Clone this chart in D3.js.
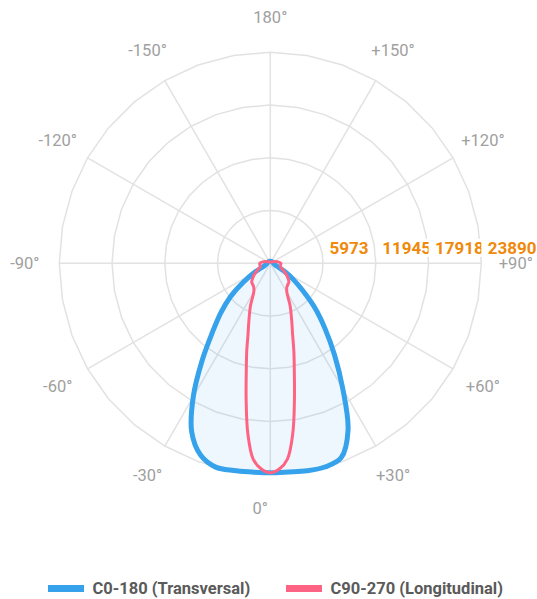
<!DOCTYPE html>
<html>
<head>
<meta charset="utf-8">
<script src="https://cdn.jsdelivr.net/npm/d3@7"></script>
<style>
  html, body { margin: 0; padding: 0; background: #fff; }
  svg { display: block; font-family: Roboto, "Noto Sans", sans-serif; }
</style>
</head>
<body>
<svg id="chart" width="537" height="599"></svg>
<script>
// Radial scale: maximum luminous intensity (cd) and the ring tick values
const axisMax = 23890;
const ringTicks = [5973, 11945, 17918, 23890];

// Angular axis: spoke angles (0° pointing down, positive to the right) and their labels
const spokeAngles = [0, 30, 60, 90, 120, 150, 180, -150, -120, -90, -60, -30];
const spokeLabels = ["0°", "+30°", "+60°", "+90°", "+120°", "+150°", "180°", "-150°", "-120°", "-90°", "-60°", "-30°"];

// C0-180 plane (transversal), sampled every 5°
const c0Angles = d3.range(-180, 180, 5);
const c0Values = [
  230, 230, 230, 230, 230, 235, 240, 245, 250, 260, 270, 280,
  290, 305, 320, 330, 340, 350, 360, 400, 430, 510, 620, 910,
  2040, 3740, 5890, 7930, 10190, 13470, 17440, 21060, 23100, 23890, 23830, 23720,
  23720, 23720, 23860, 23880, 23440, 20830, 16420, 12680, 9620, 7130, 4760, 3170,
  1920, 1020, 620, 510, 430, 400, 360, 350, 340, 330, 320, 305,
  290, 280, 270, 260, 250, 245, 240, 235, 230, 230, 230, 230
];

// C90-270 plane (longitudinal), denser sampling around the narrow beam
const c90Angles = [
  -180, -150, -135, -120, -110, -100, -90, -80, -70, -65, -60, -55, -50, -45, -40, -35,
  -30, -25, -20, -17.5, -15, -12.5, -10, -7.5, -5, -2.5,
  0, 2.5, 5, 7.5, 10, 12.5, 15, 17.5, 20, 25, 30,
  35, 40, 45, 50, 55, 60, 65, 70, 80, 90, 100, 110, 120, 135, 150
];
const c90Values = [
  170, 170, 230, 340, 570, 910, 1190, 1190, 1230, 1470, 1810, 2210, 2600, 2980, 3110, 3280,
  3740, 5320, 7130, 8380, 10300, 12570, 15740, 19470, 22250, 23320,
  23720, 23320, 22250, 19470, 15740, 12570, 10300, 8380, 7130, 5320, 3740,
  3280, 3110, 2980, 2600, 2210, 1810, 1470, 1230, 1190, 1190, 910, 570, 340, 230, 170
];

const seriesNames = ["C0-180 (Transversal)", "C90-270 (Longitudinal)"];
const blue = "#36a2eb", red = "#ff6384";

const svg = d3.select("#chart");
const cx = 270.3, cy = 263.3, R = 211;
const rScale = d3.scaleLinear().domain([0, axisMax]).range([0, R]);
const toRad = d => d * Math.PI / 180;
// lineRadial measures clockwise from 12 o'clock; 0° of the photometric axis points down
const radial = a => Math.PI - toRad(a);

const g = svg.append("g").attr("transform", `translate(${cx},${cy})`);

// Grid rings as 36-sided polygons
const gridAngles = d3.range(0, 360, 10);
const ringLine = d3.lineRadial().curve(d3.curveLinearClosed);
g.append("g").selectAll("path").data(ringTicks).join("path")
  .attr("d", t => ringLine(gridAngles.map(a => [radial(a), rScale(t)])))
  .attr("fill", "none").attr("stroke", "#e2e2e2").attr("stroke-width", 1.5);

// Spokes
g.append("g").selectAll("line").data(spokeAngles).join("line")
  .attr("x1", 0).attr("y1", 0)
  .attr("x2", a => R * Math.sin(toRad(a)))
  .attr("y2", a => R * Math.cos(toRad(a)))
  .attr("stroke", "#e2e2e2").attr("stroke-width", 1.5);

// Angle labels (the bottom label sits slightly left of the axis)
const labelR = 245.5;
g.append("g").selectAll("text").data(spokeAngles).join("text")
  .attr("x", a => labelR * Math.sin(toRad(a)) + (a === 0 ? -10 : 0))
  .attr("y", a => labelR * Math.cos(toRad(a)))
  .attr("text-anchor", "middle").attr("dominant-baseline", "central")
  .attr("font-size", 16.5).attr("fill", "#a0a0a0")
  .text((a, i) => spokeLabels[i]);

// Intensity curves
const curveLine = d3.lineRadial()
  .angle(d => radial(d[0]))
  .radius(d => rScale(d[1]))
  .curve(d3.curveCatmullRomClosed.alpha(0.5));

const c0Points = c0Angles.map((a, i) => [a, c0Values[i]]);
const c90Points = c90Angles.map((a, i) => [a, c90Values[i]]);

g.append("path").attr("d", curveLine(c0Points))
  .attr("fill", "rgba(54,162,235,0.09)")
  .attr("stroke", blue).attr("stroke-width", 5).attr("stroke-linejoin", "round");

g.append("path").attr("d", curveLine(c90Points))
  .attr("fill", "none")
  .attr("stroke", red).attr("stroke-width", 3).attr("stroke-linejoin", "round");

// Ring tick labels with white backdrops, along the +90° axis
const tickG = g.append("g");
ringTicks.forEach(t => {
  const x0 = rScale(t);
  const lab = tickG.append("g");
  const bg = lab.append("rect").attr("fill", "#fff");
  const txt = lab.append("text")
    .attr("x", x0 + 6.5).attr("y", -15.5)
    .attr("dominant-baseline", "central")
    .attr("font-size", 17).attr("font-weight", "bold")
    .attr("fill", "#f0890a")
    .text(t);
  const w = txt.node().getComputedTextLength();
  bg.attr("x", x0).attr("y", -24.5).attr("width", w + 8.5).attr("height", 18);
});

// Legend
const legend = svg.append("g").attr("transform", "translate(0,588.5)");
const legendItems = [
  { name: seriesNames[0], color: blue, x: 48 },
  { name: seriesNames[1], color: red, x: 286 }
];
legendItems.forEach(it => {
  legend.append("rect").attr("x", it.x).attr("y", -3.5).attr("width", 36).attr("height", 7)
    .attr("fill", it.color);
  legend.append("text").attr("x", it.x + 44.5).attr("y", 0)
    .attr("dominant-baseline", "central")
    .attr("font-size", 16.5).attr("font-weight", "bold").attr("fill", "#5a5a5a")
    .text(it.name);
});
</script>
</body>
</html>
